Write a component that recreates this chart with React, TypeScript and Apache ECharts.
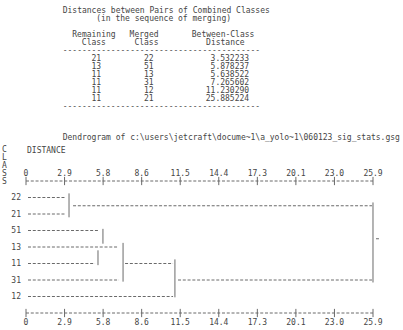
import React, { useEffect, useRef } from "react";
import * as echarts from "echarts";

// ---- table data ----
const tableTitle = "Distances between Pairs of Combined Classes";
const tableSubtitle = "(in the sequence of merging)";
const remainingClass = ["21", "13", "11", "11", "11", "11"];
const mergedClass = ["22", "51", "13", "31", "12", "21"];
const betweenDistance = ["3.532233", "5.878237", "5.638522", "7.265602", "11.230290", "25.885224"];

// ---- dendrogram data ----
const dendroTitle = "Dendrogram of c:\\users\\jetcraft\\docume~1\\a_yolo~1\\060123_sig_stats.gsg";
const rowLabels = ["22", "21", "51", "13", "11", "31", "12"];
const tickLabels = ["0", "2.9", "5.8", "8.6", "11.5", "14.4", "17.3", "20.1", "23.0", "25.9"];
const maxDistance = 25.885224;
// horizontal dashed runs: [row, fromDistance, toDistance]
const horizontalRuns: number[][] = [
  [0, 0.15, 2.91],
  [1, 0.15, 2.91],
  [0.5, 3.51, 25.81],
  [2, 0.15, 5.37],
  [3, 0.15, 6.86],
  [4, 0.15, 5.15],
  [5, 0.15, 6.94],
  [4, 7.39, 10.97],
  [6, 0.15, 10.97],
  [5, 11.34, 25.81],
  [2.5, 26.11, 26.33],
];
// vertical joins: [distance, fromRow, toRow]
const verticalJoins: number[][] = [
  [3.21, -0.25, 1.2],
  [5.74, 1.9, 2.8],
  [5.37, 3.2, 4.1],
  [7.24, 2.75, 5.1],
  [11.11, 3.75, 6.05],
  [25.885, 0.3, 5.15],
];

const FONT = "DejaVu Sans Mono";
const TXT = "#454545";
const LINE = "#6a6a6a";

export default function App() {
  const ref = useRef<HTMLDivElement>(null);
  useEffect(() => {
    if (!ref.current) return;
    const chart = echarts.init(ref.current, null, { renderer: "svg" });
    const k = 9 / maxDistance; // distance -> tick units
    const segs: any[] = [];
    horizontalRuns.forEach(([r, a, b]) => segs.push([a * k, r, b * k, r, 0]));
    verticalJoins.forEach(([d, r0, r1]) => segs.push([d * k, r0, d * k, r1, 1]));
    // rulers (top and bottom)
    [-1, 7].forEach((r) => {
      segs.push([0, r, tickLabels.length - 1, r, 0]);
      tickLabels.forEach((_, i) => segs.push([i, r - 0.25, i, r + 0.25, 1]));
    });

    const x0 = 62.7;
    const cw = 4.78;
    const t = (text: string, col: number, y: number, align = "left") => ({
      type: "text",
      x: align === "right" ? x0 + col * cw : x0 + col * cw,
      y,
      style: {
        text,
        fontFamily: FONT,
        fontSize: 8,
        fill: TXT,
        align,
        verticalAlign: "middle",
      },
    });
    const graphics: any[] = [];
    graphics.push(t(tableTitle, 0, 10));
    graphics.push(t(tableSubtitle, 7, 18));
    graphics.push(t("Remaining", 2, 34));
    graphics.push(t("Merged", 14, 34));
    graphics.push(t("Between-Class", 27, 34));
    graphics.push(t("Class", 4, 42));
    graphics.push(t("Class", 15, 42));
    graphics.push(t("Distance", 30, 42));
    graphics.push(t("-".repeat(41), 0, 50));
    remainingClass.forEach((c, i) => {
      const y = 58 + i * 8;
      graphics.push(t(c, 6, y));
      graphics.push(t(mergedClass[i], 17, y));
      graphics.push(t(betweenDistance[i], 39, y, "right"));
    });
    graphics.push(t("-".repeat(41), 0, 106));
    graphics.push(t(dendroTitle, 0, 137));
    graphics.push({
      type: "text",
      x: 27,
      y: 150,
      style: { text: "DISTANCE", fontFamily: FONT, fontSize: 8, fill: TXT, verticalAlign: "middle" },
    });
    "CLASS".split("").forEach((ch, i) =>
      graphics.push({
        type: "text",
        x: 2,
        y: 149 + i * 8,
        style: { text: ch, fontFamily: FONT, fontSize: 8, fill: TXT, verticalAlign: "middle" },
      })
    );

    const xAxisBase = {
      type: "value",
      min: 0,
      max: tickLabels.length - 1,
      interval: 1,
      axisLine: { show: false },
      axisTick: { show: false },
      splitLine: { show: false },
    };

    chart.setOption({
      animation: false,
      backgroundColor: "#ffffff",
      grid: { left: 26, right: 30, top: 181, height: 132, containLabel: false },
      xAxis: [
        {
          ...xAxisBase,
          position: "top",
          axisLabel: {
            margin: 4,
            fontFamily: FONT,
            fontSize: 8,
            color: TXT,
            formatter: (v: number) => tickLabels[Math.round(v)] ?? "",
          },
        },
        {
          ...xAxisBase,
          position: "bottom",
          axisLabel: {
            margin: 5,
            fontFamily: FONT,
            fontSize: 8,
            color: TXT,
            formatter: (v: number) => tickLabels[Math.round(v)] ?? "",
          },
        },
      ],
      yAxis: {
        type: "value",
        min: -1,
        max: 7,
        interval: 1,
        inverse: true,
        axisLine: { show: false },
        axisTick: { show: false },
        splitLine: { show: false },
        axisLabel: {
          margin: 5,
          fontFamily: FONT,
          fontSize: 8,
          color: TXT,
          formatter: (v: number) => (Number.isInteger(v) && rowLabels[v] !== undefined ? rowLabels[v] : ""),
        },
      },
      graphic: graphics,
      series: [
        {
          type: "custom",
          xAxisIndex: 0,
          yAxisIndex: 0,
          clip: false,
          silent: true,
          data: segs,
          encode: { x: [0, 2], y: [1, 3] },
          renderItem: (params: any, api: any) => {
            const p1 = api.coord([api.value(0), api.value(1)]);
            const p2 = api.coord([api.value(2), api.value(3)]);
            const dashed = api.value(4) === 0;
            return {
              type: "line",
              shape: { x1: p1[0], y1: p1[1], x2: p2[0], y2: p2[1] },
              style: {
                stroke: LINE,
                lineWidth: 1,
                lineDash: dashed ? [3, 1.78] : null,
              },
            };
          },
        },
      ],
    });
    return () => chart.dispose();
  }, []);
  return (
    <div
      ref={ref}
      style={{ position: "fixed", left: 0, top: 0, width: 403, height: 330, background: "#fff" }}
    />
  );
}
